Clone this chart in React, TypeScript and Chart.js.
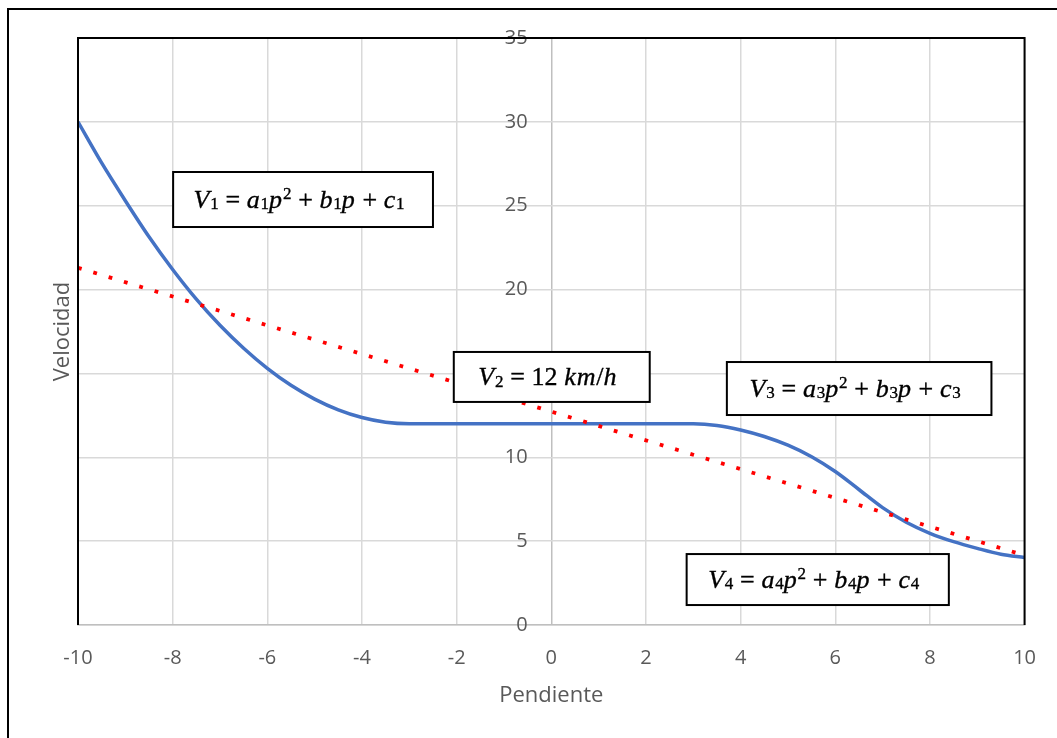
import { useEffect, useRef } from "react";
import { Chart, registerables } from "chart.js";

Chart.register(...registerables);

// Pendiente (x) and Velocidad (y)
const slopes = [-10, -9.5, -9, -8.5, -8, -7.5, -7, -6.5, -6, -5.5, -5, -4.5, -4, -3.5, -3, -2, -1, 0, 1, 2, 3, 3.5, 4, 4.5, 5, 5.5, 6, 6.5, 7, 7.5, 8, 8.5, 9, 9.5, 10];
const speeds = [30, 27.55, 25.3, 23.15, 21.2, 19.43, 17.87, 16.5, 15.3, 14.29, 13.47, 12.83, 12.37, 12.09, 12, 12, 12, 12, 12, 12, 12, 11.9, 11.63, 11.24, 10.72, 10.03, 9.15, 8.08, 7.0, 6.13, 5.47, 4.97, 4.57, 4.22, 4.02];

// Dotted straight reference line
const trendSlopes = [-10, 10];
const trendSpeeds = [21.3, 4.15];

const xTitle = "Pendiente";
const yTitle = "Velocidad";

// Equation labels: "_" = subscript, "^" = superscript
const notes = [
  { text: "V_1 = a_1p^2 + b_1p + c_1", x1: -7.99, x2: -2.5, y1: 27.01, y2: 23.73 },
  { text: "V_2 = 12 km/h", x1: -2.06, x2: 2.08, y1: 16.28, y2: 13.3 },
  { text: "V_3 = a_3p^2 + b_3p + c_3", x1: 3.71, x2: 9.3, y1: 15.68, y2: 12.52 },
  { text: "V_4 = a_4p^2 + b_4p + c_4", x1: 2.86, x2: 8.4, y1: 4.23, y2: 1.19 },
];

const TICK_COLOR = "#595959";
const EQ_FONT = '"Liberation Serif"';

type Seg = { t: string; kind: "i" | "u" | "sub" | "sup" | "sp" };

function parseEq(s: string): Seg[] {
  const out: Seg[] = [];
  for (let i = 0; i < s.length; i++) {
    const c = s[i];
    if (c === "_") { out.push({ t: s[++i], kind: "sub" }); continue; }
    if (c === "^") { out.push({ t: s[++i], kind: "sup" }); continue; }
    if (c === " ") { out.push({ t: " ", kind: "sp" }); continue; }
    if (/[a-zA-Z]/.test(c)) out.push({ t: c, kind: "i" });
    else out.push({ t: c, kind: "u" });
  }
  return out;
}

function segFont(kind: Seg["kind"], size: number) {
  if (kind === "i") return `italic ${size}px ${EQ_FONT}`;
  if (kind === "sub" || kind === "sup") return `${Math.round(size * 0.64)}px ${EQ_FONT}`;
  return `${size}px ${EQ_FONT}`;
}

function drawEq(ctx: CanvasRenderingContext2D, text: string, cx: number, baseline: number, size: number) {
  const segs = parseEq(text);
  const space = size * 0.26;
  const widths = segs.map((s) => {
    if (s.kind === "sp") return space;
    ctx.font = segFont(s.kind, size);
    return ctx.measureText(s.t).width + (s.kind === "i" ? size * 0.03 : 0);
  });
  const total = widths.reduce((a, b) => a + b, 0);
  let x = cx - total / 2;
  ctx.fillStyle = "#000";
  ctx.strokeStyle = "#000";
  ctx.lineWidth = 0.35;
  ctx.textAlign = "left";
  ctx.textBaseline = "alphabetic";
  segs.forEach((s, i) => {
    if (s.kind !== "sp") {
      ctx.font = segFont(s.kind, size);
      let y = baseline;
      if (s.kind === "sub") y += size * 0.06;
      if (s.kind === "sup") y -= size * 0.32;
      ctx.fillText(s.t, x, y);
      ctx.strokeText(s.t, x, y);
    }
    x += widths[i];
  });
}

const decorPlugin = {
  id: "decor",
  beforeDraw(chart: any) {
    const { ctx, width, height } = chart;
    ctx.save();
    ctx.fillStyle = "#fff";
    ctx.fillRect(0, 0, width, height);
    ctx.fillStyle = "#000";
    ctx.fillRect(0, 0, 2, height);
    ctx.fillRect(0, 0, width, 2);
    ctx.restore();
  },
  afterDraw(chart: any) {
    const { ctx, chartArea: a, scales } = chart;
    ctx.save();
    ctx.strokeStyle = "#000";
    ctx.lineWidth = 2;
    ctx.beginPath();
    ctx.moveTo(a.left, a.bottom);
    ctx.lineTo(a.left, a.top);
    ctx.lineTo(a.right, a.top);
    ctx.lineTo(a.right, a.bottom);
    ctx.stroke();
    for (const n of notes) {
      const l = scales.x.getPixelForValue(n.x1);
      const r = scales.x.getPixelForValue(n.x2);
      const t = scales.y.getPixelForValue(n.y1);
      const b = scales.y.getPixelForValue(n.y2);
      ctx.fillStyle = "#fff";
      ctx.fillRect(l, t, r - l, b - t);
      ctx.strokeStyle = "#000";
      ctx.lineWidth = 2;
      ctx.strokeRect(l, t, r - l, b - t);
      drawEq(ctx, n.text, (l + r) / 2 - 4, (t + b) / 2 + 8, 26);
    }
    ctx.restore();
  },
};

export default function App() {
  const ref = useRef<HTMLCanvasElement | null>(null);
  useEffect(() => {
    if (!ref.current) return;
    const chart = new Chart(ref.current, {
      type: "line",
      data: {
        datasets: [
          {
            label: "Tendencia",
            data: trendSlopes.map((x, i) => ({ x, y: trendSpeeds[i] })),
            borderColor: "#ff0000",
            borderWidth: 3.8,
            borderDash: [3.8, 12.2],
            borderCapStyle: "butt",
            pointRadius: 0,
            fill: false,
          },
          {
            label: "Velocidad",
            data: slopes.map((x, i) => ({ x, y: speeds[i] })),
            borderColor: "#4472c4",
            borderWidth: 3.5,
            pointRadius: 0,
            cubicInterpolationMode: "monotone",
            fill: false,
          },
        ],
      },
      options: {
        animation: false,
        responsive: false,
        events: [],
        layout: { padding: { left: 0, top: 30, right: 32, bottom: 0 } },
        plugins: { legend: { display: false }, tooltip: { enabled: false } },
        scales: {
          x: {
            type: "linear",
            min: -10,
            max: 10,
            afterFit: (s: any) => { s.height = 113; },
            ticks: { stepSize: 2, color: TICK_COLOR, padding: 21, font: { family: '"Open Sans"', size: 20 } },
            grid: {
              color: (c: any) => (c.tick && c.tick.value === 0 ? "#bfbfbf" : "#d9d9d9"),
              lineWidth: 1.5,
              drawTicks: false,
            },
            border: { color: "#bfbfbf", width: 1.5 },
            title: {
              display: true,
              text: xTitle,
              color: TICK_COLOR,
              font: { family: '"Open Sans"', size: 22 },
              padding: { top: 0, bottom: 29 },
            },
          },
          y: {
            type: "linear",
            // labels sit just left of the x = 0 line
            position: { x: -0.5 } as any,
            min: 0,
            max: 35,
            ticks: { stepSize: 5, color: TICK_COLOR, padding: 0, font: { family: '"Open Sans"', size: 20, lineHeight: 0.8 } },
            grid: { color: "#d9d9d9", lineWidth: 1.5, drawTicks: false },
            border: { display: false },
          },
          yTitle: {
            type: "linear",
            position: "left",
            afterFit: (s: any) => { s.width = 71; },
            ticks: { display: false },
            grid: { display: false },
            border: { display: false },
            title: {
              display: true,
              text: yTitle,
              color: TICK_COLOR,
              font: { family: '"Open Sans"', size: 22 },
              padding: { top: 43, bottom: 0 },
            },
          },
        },
      },
      plugins: [decorPlugin],
    });
    return () => chart.destroy();
  }, []);
  return (
    <div style={{ position: "fixed", left: 7, top: 8, width: 1050, height: 730 }}>
      <canvas ref={ref} width={1050} height={730} style={{ display: "block" }} />
    </div>
  );
}
